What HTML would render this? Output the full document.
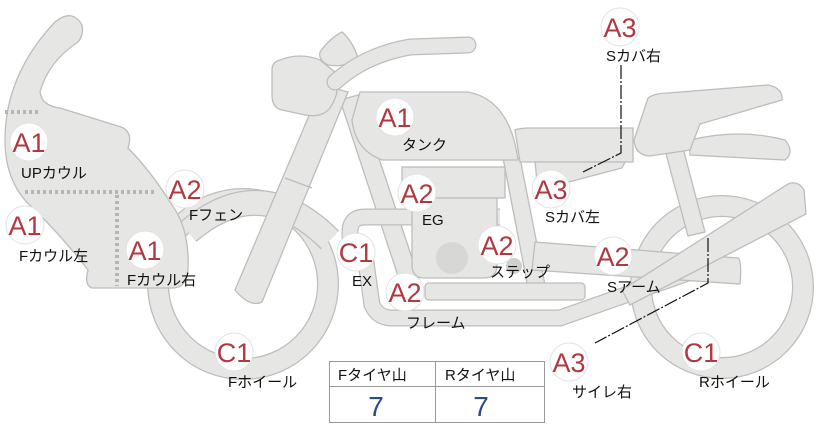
<!DOCTYPE html>
<html><head><meta charset="utf-8"><style>
html,body{margin:0;padding:0;background:#fff;}
svg{display:block;}
.t{font-family:"Liberation Sans","Noto Sans CJK JP",sans-serif;font-size:15px;fill:#111;}
.b{font-family:"Liberation Sans","Noto Sans CJK JP",sans-serif;font-size:27px;fill:#b0393f;text-anchor:middle;}
</style></head><body>
<svg width="822" height="425" viewBox="0 0 822 425" xmlns="http://www.w3.org/2000/svg">
<defs>
<style>.s{fill:#e6e6e4;stroke:#bdbdbd;stroke-width:1.3}</style>
</defs>
<!-- front wheel -->
<circle cx="243" cy="284" r="85" fill="none" stroke="#bdbdbd" stroke-width="22"/>
<circle cx="243" cy="284" r="85" fill="none" stroke="#e6e6e4" stroke-width="19.5"/>
<!-- rear wheel -->
<circle cx="722" cy="287" r="81" fill="none" stroke="#bdbdbd" stroke-width="22"/>
<circle cx="722" cy="287" r="81" fill="none" stroke="#e6e6e4" stroke-width="19.5"/>
<!-- front fender -->
<path d="M188,232 Q260,170 330,240" fill="none" stroke="#bdbdbd" stroke-width="26"/>
<path d="M188,232 Q260,170 330,240" fill="none" stroke="#e6e6e4" stroke-width="23.5"/>
<!-- cowl -->
<path class="s" d="M55,22 Q72,8 82,25 Q84,35 78,42 Q48,62 40,92 Q42,106 60,108 L118,126 Q134,130 128,148 Q150,170 172,205 Q190,230 188,270 Q187,288 172,288 L92,288 Q84,285 88,270 Q65,240 35,210 Q5,185 5,140 Q5,75 55,22 Z"/>
<path d="M5,112 H40 M25,192 H155 M117,195 V286" stroke="#b5b5b5" stroke-width="4" stroke-dasharray="3,3" fill="none"/>
<!-- rear frame strut -->
<path class="s" d="M665,150 L683,148 L705,232 L688,236 Z"/>
<!-- frame rails -->
<path class="s" d="M340,100 L358,95 L420,282 L402,288 Z"/>
<path class="s" d="M503,158 L520,158 L545,285 L528,288 Z"/>
<!-- exhaust pipes -->
<path d="M350,250 L350,232 Q350,217 365,217 L500,217" fill="none" stroke="#bdbdbd" stroke-width="17"/>
<path d="M350,250 L350,232 Q350,217 365,217 L500,217" fill="none" stroke="#e6e6e4" stroke-width="14.5"/>
<path d="M365,255 L372,305 Q378,318 392,318 L560,318 L725,260" fill="none" stroke="#bdbdbd" stroke-width="17"/>
<path d="M365,255 L372,305 Q378,318 392,318 L560,318 L725,260" fill="none" stroke="#e6e6e4" stroke-width="14.5"/>
<!-- engine -->
<rect class="s" x="402" y="167" width="103" height="31"/>
<path class="s" d="M412,198 H497 V265 Q497,278 484,278 H425 Q412,278 412,265 Z"/>
<circle cx="452" cy="258" r="16" fill="#d7d7d5"/>
<!-- lower frame -->
<rect class="s" x="425" y="283" width="160" height="17" rx="4"/>
<!-- swing arm -->
<path class="s" d="M535,242 L738,258 Q742,260 740,284 L532,270 Z"/>
<circle cx="514" cy="266" r="8" fill="#cfcfcd"/>
<!-- muffler -->
<path class="s" d="M622,290 L788,184 Q798,180 804,190 L806,214 L630,305 Z"/>
<!-- fork -->
<path class="s" d="M235,290 L322,85 L348,92 L262,302 Q250,308 235,290 Z"/>
<path d="M285,178 L312,188" stroke="#bdbdbd" stroke-width="1.3"/>
<!-- headlight -->
<path class="s" d="M280,60 Q300,52 320,60 L335,72 Q342,90 330,108 Q322,118 305,115 L282,110 Q272,108 272,95 L272,70 Q272,62 280,60 Z"/>
<path class="s" d="M320,52 Q330,38 342,32 Q352,40 358,58 Q345,68 328,65 Q318,60 320,52 Z"/>
<!-- handlebar -->
<path d="M335,82 Q365,55 410,47 L468,45" fill="none" stroke="#bdbdbd" stroke-width="17" stroke-linecap="round"/>
<path d="M335,82 Q365,55 410,47 L468,45" fill="none" stroke="#e6e6e4" stroke-width="14.5" stroke-linecap="round"/>
<!-- tank -->
<path class="s" d="M360,92 H468 Q510,100 518,160 H382 Q355,150 352,120 Z"/>
<!-- seat front -->
<path class="s" d="M515,130 Q520,128 530,128 H633 V162 H520 Z"/>
<path class="s" d="M535,162 H625 L622,168 L538,190 Z"/>
<!-- rear seat -->
<path class="s" d="M690,140 Q740,128 785,140 Q795,152 785,160 L690,155 Z"/>
<path class="s" d="M648,98 Q655,93 668,93 L768,85 Q783,88 782,100 L700,124 L690,150 L650,156 Q635,155 634,140 Z"/>
<!-- lines -->
<path d="M621,65 V153 L583,172" fill="none" stroke="#111" stroke-width="1.2" stroke-dasharray="14,2,2,2"/>
<path d="M708,238 V283 L595,343" fill="none" stroke="#111" stroke-width="1.2" stroke-dasharray="14,2,2,2"/>
<!-- badges -->
<g fill="#fff" stroke="#e2e2e2" stroke-width="1">
<circle cx="620" cy="27" r="19"/><circle cx="395" cy="117" r="19"/><circle cx="29" cy="142" r="19"/>
<circle cx="185" cy="189" r="19"/><circle cx="25" cy="225" r="19"/><circle cx="145" cy="250" r="19"/>
<circle cx="356" cy="252" r="19"/><circle cx="417" cy="193" r="19"/><circle cx="551" cy="189" r="19"/>
<circle cx="497" cy="245" r="19"/><circle cx="613" cy="256" r="19"/><circle cx="405" cy="292" r="19"/>
<circle cx="234" cy="352" r="19"/><circle cx="569" cy="362" r="19"/><circle cx="701" cy="352" r="19"/>
</g>
<g class="b">
<text x="620" y="37">A3</text><text x="395" y="127">A1</text><text x="29" y="152">A1</text>
<text x="185" y="199">A2</text><text x="25" y="235">A1</text><text x="145" y="260">A1</text>
<text x="356" y="262">C1</text><text x="417" y="203">A2</text><text x="551" y="199">A3</text>
<text x="497" y="255">A2</text><text x="613" y="266">A2</text><text x="405" y="302">A2</text>
<text x="234" y="362">C1</text><text x="569" y="372">A3</text><text x="701" y="362">C1</text>
</g>
<g class="t">
<text x="606" y="61">Sカバ右</text><text x="402" y="150">タンク</text><text x="21" y="178">UPカウル</text>
<text x="189" y="220">Fフェン</text><text x="19" y="261">Fカウル左</text><text x="127" y="285">Fカウル右</text>
<text x="352" y="286">EX</text><text x="422" y="225">EG</text><text x="545" y="222">Sカバ左</text>
<text x="490" y="277">ステップ</text><text x="607" y="292">Sアーム</text><text x="406" y="328">フレーム</text>
<text x="228" y="387">Fホイール</text><text x="572" y="397">サイレ右</text><text x="699" y="387">Rホイール</text>
</g>
<!-- table -->
<rect x="329.5" y="361.5" width="215" height="61" fill="#fff" stroke="#999"/>
<line x1="329" y1="386.5" x2="545" y2="386.5" stroke="#999"/>
<line x1="435.5" y1="361" x2="435.5" y2="423" stroke="#999"/>
<g class="t"><text x="338" y="380">Fタイヤ山</text><text x="445" y="380">Rタイヤ山</text></g>
<g font-family="Liberation Sans,sans-serif" font-size="28" fill="#2a4a8a" text-anchor="middle">
<text x="376" y="416">7</text><text x="481" y="416">7</text></g>
</svg>
</body></html>
